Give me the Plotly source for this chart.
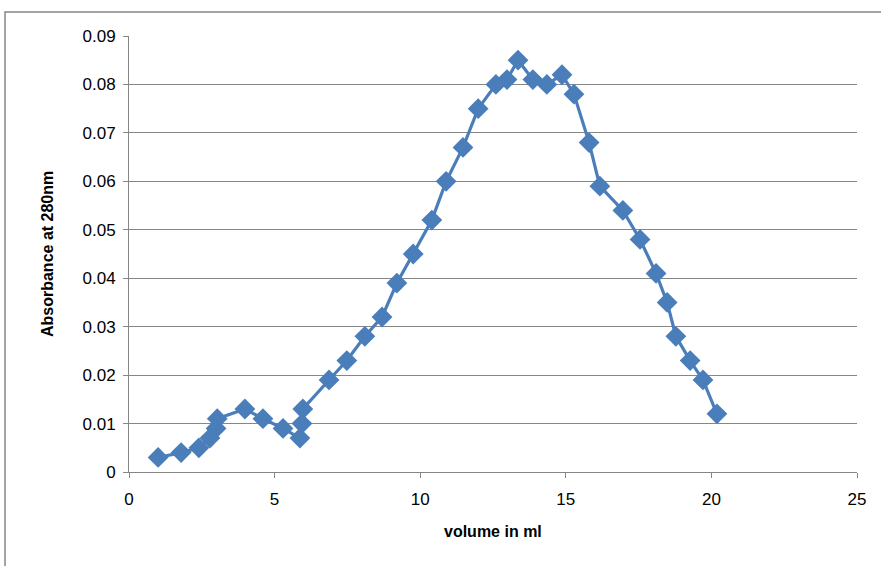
import plotly.graph_objects as go

volume_ml = [1.0, 1.79, 2.4, 2.78, 2.99, 3.03, 3.98, 4.6, 5.29, 5.87, 5.94, 5.97,
             6.87, 7.48, 8.1, 8.69, 9.2, 9.76, 10.4, 10.89, 11.47, 11.99, 12.6, 12.98,
             13.36, 13.87, 14.35, 14.87, 15.28, 15.8, 16.17, 16.96, 17.55, 18.1, 18.48,
             18.78, 19.27, 19.71, 20.19]
absorbance = [0.003, 0.004, 0.005, 0.007, 0.009, 0.011, 0.013, 0.011, 0.009, 0.007, 0.010, 0.013,
              0.019, 0.023, 0.028, 0.032, 0.039, 0.045, 0.052, 0.060, 0.067, 0.075, 0.080, 0.081,
              0.085, 0.081, 0.080, 0.082, 0.078, 0.068, 0.059, 0.054, 0.048, 0.041, 0.035,
              0.028, 0.023, 0.019, 0.012]

x_ticks = [0, 5, 10, 15, 20, 25]
y_ticks = [0, 0.01, 0.02, 0.03, 0.04, 0.05, 0.06, 0.07, 0.08, 0.09]
y_tick_labels = ["0", "0.01", "0.02", "0.03", "0.04", "0.05", "0.06", "0.07", "0.08", "0.09"]

font_family = "Liberation Sans, Arial, sans-serif"
blue = "#4A7EBB"
grid = "#868686"

fig = go.Figure()
fig.add_trace(go.Scatter(
    x=volume_ml, y=absorbance, mode="lines+markers",
    line=dict(color=blue, width=3.2),
    marker=dict(symbol="diamond", size=16, color=blue),
    showlegend=False,
))

fig.update_layout(
    width=881, height=566,
    margin=dict(l=129, r=24, t=36, b=94),
    paper_bgcolor="white", plot_bgcolor="white",
    font=dict(family=font_family, size=16, color="black"),
    xaxis=dict(
        range=[0, 25], tickvals=x_ticks, ticktext=[str(v) for v in x_ticks],
        showgrid=False, zeroline=False, automargin=False,
        showline=True, linecolor=grid, linewidth=1,
        ticks="outside", ticklen=5, tickcolor=grid,
        tickfont=dict(size=17), ticklabelstandoff=7,
    ),
    yaxis=dict(
        range=[0, 0.09], tickvals=y_ticks, ticktext=y_tick_labels,
        showgrid=True, gridcolor=grid, gridwidth=1,
        zeroline=False, automargin=False,
        showline=True, linecolor=grid, linewidth=1,
        ticks="outside", ticklen=5, tickcolor=grid,
        tickfont=dict(size=17), ticklabelstandoff=4,
    ),
    annotations=[
        dict(text="<b>volume in ml</b>", xref="paper", yref="paper",
             x=0.5, y=-0.1376, xanchor="center", yanchor="middle",
             showarrow=False, font=dict(size=16)),
        dict(text="<b>Absorbance at 280nm</b>", xref="paper", yref="paper",
             x=-0.1126, y=0.5, xanchor="center", yanchor="middle", textangle=-90,
             showarrow=False, font=dict(size=16)),
    ],
    shapes=[dict(
        type="rect", xref="paper", yref="paper",
        x0=-0.1703, x1=1.06, y0=-0.3, y1=1.055,
        line=dict(color=grid, width=1.5), fillcolor="rgba(0,0,0,0)", layer="below",
    )],
)

fig.write_html("out.html", config={"displayModeBar": False},
               post_script="document.body.style.margin='0';")
